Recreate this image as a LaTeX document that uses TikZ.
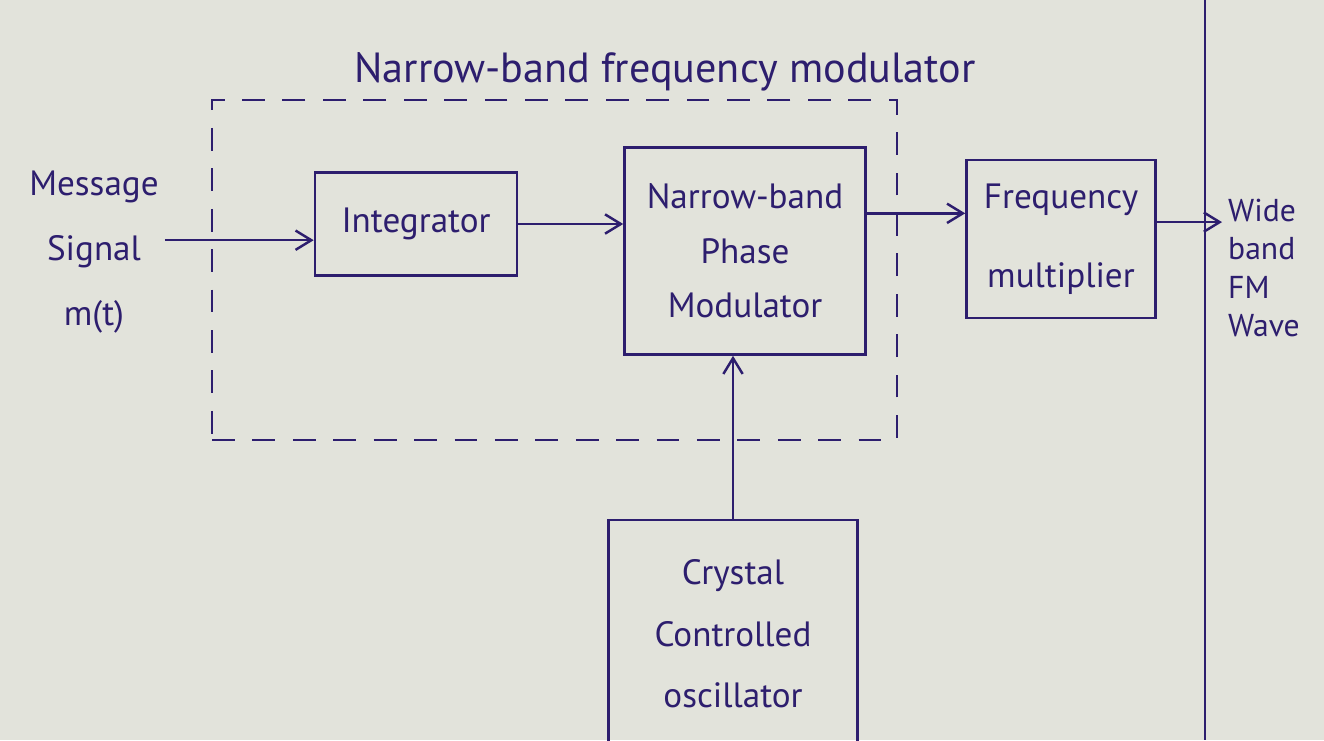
\documentclass[tikz,border=0pt]{standalone}
\usepackage{fontspec}
\setmainfont{PT Sans}
\usetikzlibrary{arrows.meta}
\definecolor{ink}{RGB}{45,30,110}
\definecolor{paper}{RGB}{226,227,219}
\begin{document}
\begin{tikzpicture}
[x=0.02cm,y=-0.02cm,
  boxdecorate/.style={shape=rectangle,draw=ink,line width=1.5pt,align=center,text=ink,font=\fontsize{20}{31}\selectfont},
  textdecorate/.style={align=center,text=ink,font=\fontsize{20}{37}\selectfont},
  linedecorate/.style={-{Straight Barb[length=9pt,width=11pt]},draw=ink,line width=1.4pt},
  dashdecorate/.style={draw=ink,line width=1.2pt,dash pattern=on 13pt off 10pt}]
% paper and margin line
\clip (0,0) rectangle (1324,740);
\fill[paper] (0,0) rectangle (1324,740);
\draw[ink,line width=1pt] (1205,0) -- (1205,740);
% dashed frame
\node (nbfm) at (554.5,270) [dashdecorate,minimum width=13.7cm,minimum height=6.8cm] {};
\node (title) at (665,72) [textdecorate,font=\fontsize{24}{28}\selectfont] {Narrow-band frequency modulator};
% nodes or blocks
\node (msg) at (94,252) [textdecorate] {Message\\Signal\\m(t)};
\node (integ) at (416,224) [boxdecorate,minimum width=4.04cm,minimum height=2.06cm] {Integrator};
\node (nbpm) at (745,251) [boxdecorate,minimum width=4.82cm,minimum height=4.14cm] {Narrow-band\\Phase\\Modulator};
\node (fm) at (1061,239) [boxdecorate,minimum width=3.78cm,minimum height=3.16cm,font=\fontsize{20}{45}\selectfont] {Frequency\\multiplier};
\node (osc) at (733,634) [boxdecorate,minimum width=4.98cm,minimum height=4.56cm,font=\fontsize{20}{35}\selectfont] {Crystal\\Controlled\\oscillator};
\node (wide) at (1222,268) [textdecorate,anchor=west,align=left,font=\fontsize{18}{22}\selectfont] {Wide\\band\\FM\\Wave};
% edges or arrows
\path
(msg.east |- integ.189) edge[linedecorate] (integ.189)
(integ.east) edge[linedecorate] (integ.east -| nbpm.west)
(nbpm.east |- fm.165) edge[linedecorate] (fm.165)
(fm.10) edge[linedecorate] (fm.10 -| wide.west)
(osc.north) edge[linedecorate] (osc.north |- nbpm.south);
\end{tikzpicture}
\end{document}
